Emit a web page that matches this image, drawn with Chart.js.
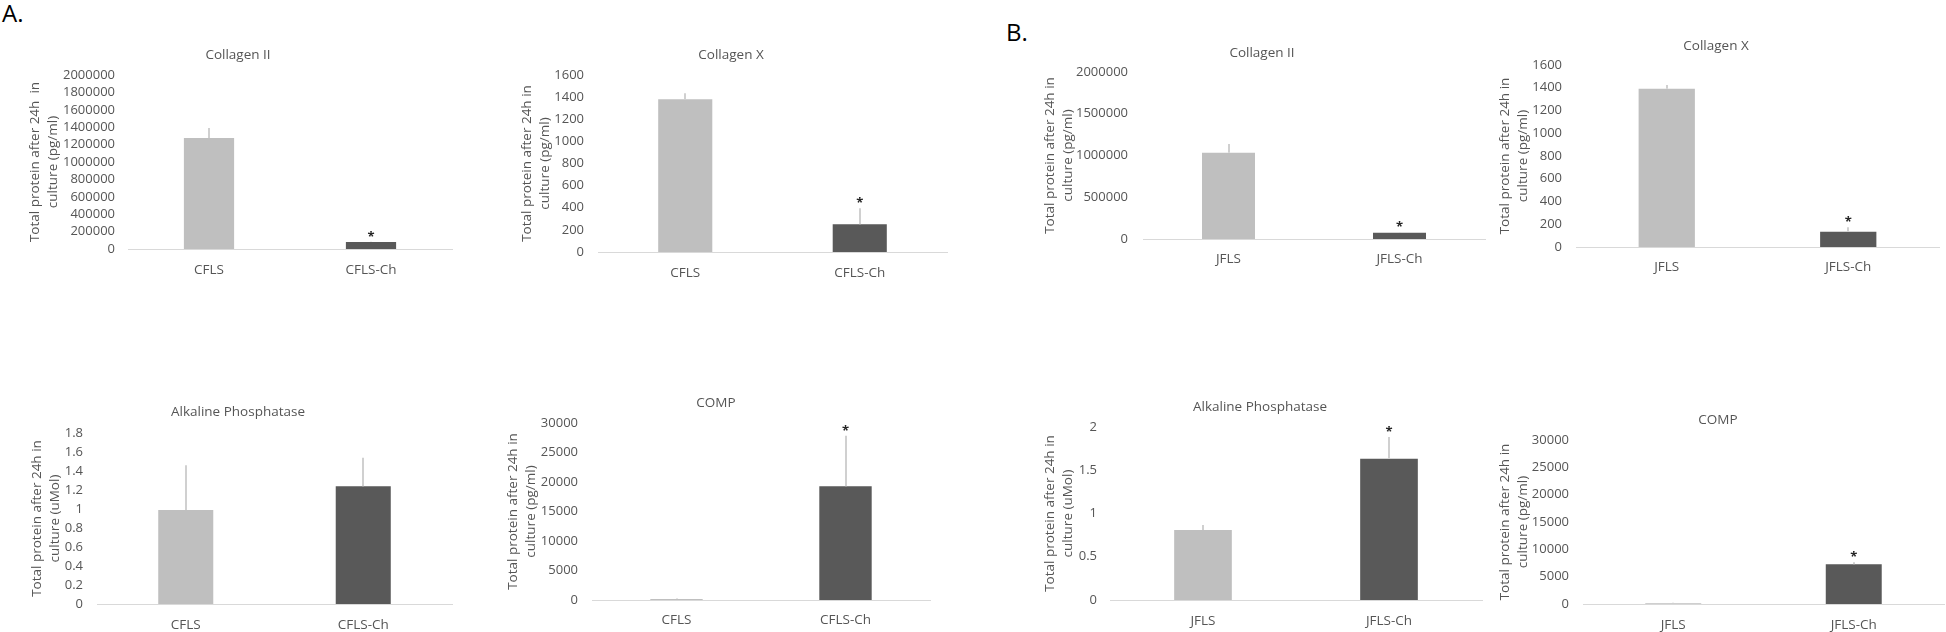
<!DOCTYPE html>
<html lang="en">
<head>
  <meta charset="UTF-8">
  <title>Total protein after 24h in culture</title>
  <script src="https://cdn.jsdelivr.net/npm/chart.js"></script>
  <style>
    body {
      margin: 0;
      background: #fff;
      font-family: 'Open Sans', sans-serif;
    }
    #page {
      position: relative;
      width: 1946px;
      height: 632px;
      overflow: hidden;
    }
    .panel { position: absolute; }
    .tag {
      position: absolute;
      font-size: 24px;
      line-height: 1;
      color: #000;
    }
  </style>
</head>
<body>
  <div id="page">
    <div class="tag" style="left:2px; top:1px;">A.</div>
    <div class="tag" style="left:1006px; top:20px;">B.</div>
  </div>

  <script>
    // Categories
    const groupsA = ['CFLS', 'CFLS-Ch'];
    const groupsB = ['JFLS', 'JFLS-Ch'];

    // Means and upper error (SD) for each panel
    const colIIA = [1276000, 80000];
    const colIIAErr = [114000, 3000];
    const colXA = [1380, 250];
    const colXAErr = [55, 145];
    const alpA = [0.99, 1.24];
    const alpAErr = [0.47, 0.30];
    const compA = [150, 19270];
    const compAErr = [100, 8580];

    const colIIB = [1034000, 75000];
    const colIIBErr = [104000, 10000];
    const colXB = [1392, 135];
    const colXBErr = [32, 38];
    const alpB = [0.81, 1.634];
    const alpBErr = [0.058, 0.25];
    const compB = [150, 7260];
    const compBErr = [80, 370];

    // significance stars
    const starsColIIA = [false, true];
    const starsColXA = [false, true];
    const starsAlpA = [false, false];
    const starsCompA = [false, true];
    const starsColIIB = [false, true];
    const starsColXB = [false, true];
    const starsAlpB = [false, true];
    const starsCompB = [false, true];

    const TEXT = '#555555';
    const LIGHT = '#bfbfbf';
    const DARK = '#595959';
    const FONT = "'Open Sans', sans-serif";

    const panels = [
      { title: 'Collagen II', labels: groupsA, values: colIIA, errors: colIIAErr, stars: starsColIIA,
        max: 2000000, step: 200000, yTitle: ['Total protein after 24h  in', 'culture (pg/ml)'],
        box: { titleX: 238, titleY: 55, left: 128, right: 452, top: 75, bottom: 249, yTitleX: 35, tickRight: 115, labelY: 270 } },
      { title: 'Collagen X', labels: groupsA, values: colXA, errors: colXAErr, stars: starsColXA,
        max: 1600, step: 200, yTitle: ['Total protein after 24h in', 'culture (pg/ml)'],
        box: { titleX: 731, titleY: 55, left: 598, right: 947, top: 75, bottom: 252, yTitleX: 527, tickRight: 584, labelY: 273 } },
      { title: 'Collagen II', labels: groupsB, values: colIIB, errors: colIIBErr, stars: starsColIIB,
        max: 2000000, step: 500000, yTitle: ['Total protein after 24h in', 'culture (pg/ml)'],
        box: { titleX: 1262, titleY: 53, left: 1143, right: 1485, top: 72, bottom: 239, yTitleX: 1050, tickRight: 1128, labelY: 259 } },
      { title: 'Collagen X', labels: groupsB, values: colXB, errors: colXBErr, stars: starsColXB,
        max: 1600, step: 200, yTitle: ['Total protein after 24h in', 'culture (pg/ml)'],
        box: { titleX: 1716, titleY: 46, left: 1576, right: 1939, top: 65, bottom: 247, yTitleX: 1505, tickRight: 1562, labelY: 267 } },
      { title: 'Alkaline Phosphatase', labels: groupsA, values: alpA, errors: alpAErr, stars: starsAlpA,
        max: 1.8, step: 0.2, yTitle: ['Total protein after 24h in', 'culture (uMol)'],
        box: { titleX: 238, titleY: 412, left: 97, right: 452, top: 433, bottom: 604, yTitleX: 37, tickRight: 83, labelY: 625 } },
      { title: 'COMP', labels: groupsA, values: compA, errors: compAErr, stars: starsCompA,
        max: 30000, step: 5000, yTitle: ['Total protein after 24h in', 'culture (pg/ml)'],
        box: { titleX: 716, titleY: 403, left: 592, right: 930, top: 423, bottom: 600, yTitleX: 513, tickRight: 578, labelY: 620 } },
      { title: 'Alkaline Phosphatase', labels: groupsB, values: alpB, errors: alpBErr, stars: starsAlpB,
        max: 2, step: 0.5, yTitle: ['Total protein after 24h in', 'culture (uMol)'],
        box: { titleX: 1260, titleY: 407, left: 1110, right: 1482, top: 427, bottom: 600, yTitleX: 1050, tickRight: 1097, labelY: 621 } },
      { title: 'COMP', labels: groupsB, values: compB, errors: compBErr, stars: starsCompB,
        max: 30000, step: 5000, yTitle: ['Total protein after 24h in', 'culture (pg/ml)'],
        box: { titleX: 1718, titleY: 420, left: 1583, right: 1944, top: 440, bottom: 604, yTitleX: 1505, tickRight: 1569, labelY: 625 } }
    ];

    // error bars (upper half only, no caps) and significance stars
    const errorBars = {
      id: 'errorBars',
      afterDatasetsDraw(chart) {
        const ds = chart.data.datasets[0];
        const meta = chart.getDatasetMeta(0);
        const y = chart.scales.y;
        const ctx = chart.ctx;
        ctx.save();
        meta.data.forEach((bar, i) => {
          const top = y.getPixelForValue(ds.data[i] + ds.errors[i]);
          const x = Math.round(bar.x);
          ctx.strokeStyle = '#d0d0d0';
          ctx.lineWidth = 2;
          ctx.beginPath();
          ctx.moveTo(x, bar.y);
          ctx.lineTo(x, top);
          ctx.stroke();
          if (ds.stars[i]) {
            ctx.fillStyle = '#262626';
            ctx.font = 'bold 13px ' + FONT;
            ctx.textAlign = 'center';
            ctx.textBaseline = 'alphabetic';
            ctx.fillText('*', bar.x, top - 1);
          }
        });
        ctx.restore();
      }
    };

    // chart title drawn at a fixed spot (Excel centres it over the whole chart box)
    const panelTitle = {
      id: 'panelTitle',
      afterDraw(chart, args, opts) {
        const ctx = chart.ctx;
        ctx.save();
        ctx.fillStyle = TEXT;
        ctx.font = '13.5px ' + FONT;
        ctx.textAlign = 'center';
        ctx.textBaseline = 'middle';
        ctx.fillText(opts.text, opts.x, opts.y);
        ctx.restore();
      }
    };

    function fmt(v) {
      return String(Math.round(v * 1000) / 1000);
    }

    function buildPanel(p) {
      const b = p.box;
      const padL = 3;
      const cLeft = b.yTitleX - 9 - padL;
      const cTop = b.titleY - 14;
      const cRight = Math.min(1946, b.right + 2);
      const cBottom = b.labelY + 14;

      const div = document.createElement('div');
      div.className = 'panel';
      div.style.left = cLeft + 'px';
      div.style.top = cTop + 'px';
      const canvas = document.createElement('canvas');
      canvas.width = cRight - cLeft;
      canvas.height = cBottom - cTop;
      div.appendChild(canvas);
      document.getElementById('page').appendChild(div);

      new Chart(canvas, {
        type: 'bar',
        data: {
          labels: p.labels,
          datasets: [{
            data: p.values,
            errors: p.errors,
            stars: p.stars,
            backgroundColor: [LIGHT, DARK],
            borderWidth: 0,
            barPercentage: 0.31,
            categoryPercentage: 1
          }]
        },
        options: {
          responsive: false,
          animation: false,
          layout: { padding: { left: padL, top: b.top - cTop, right: cRight - b.right, bottom: 0 } },
          plugins: {
            legend: { display: false },
            tooltip: { enabled: false },
            panelTitle: { text: p.title, x: b.titleX - cLeft, y: b.titleY - cTop }
          },
          scales: {
            x: {
              grid: { display: false, drawTicks: false },
              border: { display: true, color: '#d9d9d9', width: 1 },
              ticks: { color: TEXT, font: { family: FONT, size: 13.5 }, padding: b.labelY - b.bottom - 8 },
              afterFit: s => { s.height = cBottom - b.bottom; }
            },
            y: {
              min: 0,
              max: p.max,
              grid: { display: false, drawTicks: false },
              border: { display: false },
              ticks: { stepSize: p.step, autoSkip: false, color: TEXT, font: { family: FONT, size: 13 }, padding: b.left - b.tickRight, callback: fmt },
              title: { display: true, text: p.yTitle, color: TEXT, font: { family: FONT, size: 13.5, lineHeight: 1.333 }, padding: 0 },
              afterFit: s => { s.width = b.left - (cLeft + padL); }
            }
          }
        },
        plugins: [errorBars, panelTitle]
      });
    }

    panels.forEach(buildPanel);
  </script>
</body>
</html>
